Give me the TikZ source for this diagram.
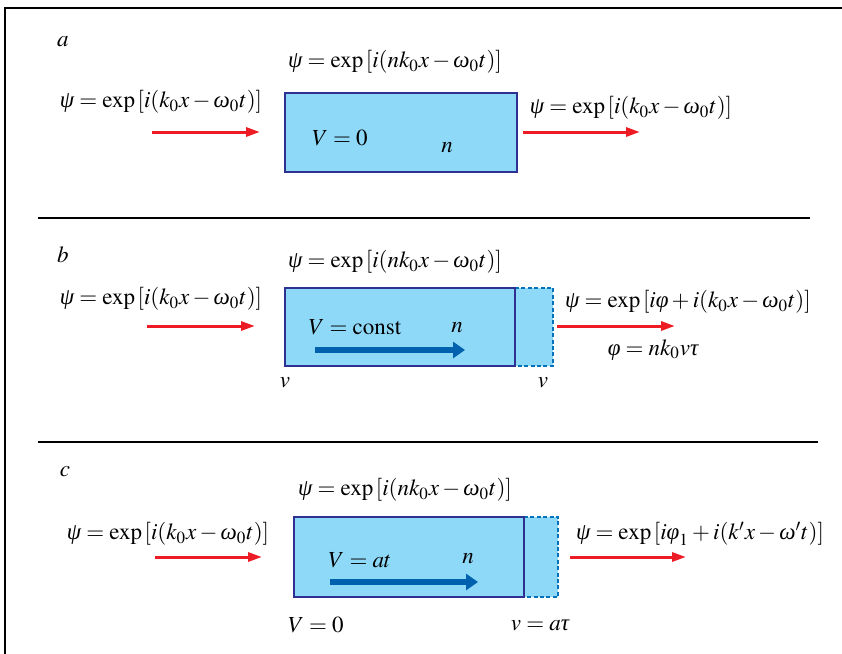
\documentclass[tikz,border=0pt]{standalone}
\usepackage{mathptmx}
\usepackage{fontspec}
\setmainfont{Liberation Serif}
\usetikzlibrary{arrows.meta}
\newcommand{\gr}[1]{\mbox{\itshape #1}}
\definecolor{fillblue}{HTML}{8ED8F8}
\definecolor{edgeblue}{HTML}{2E3192}
\definecolor{dashblue}{HTML}{0072BC}
\definecolor{arrblue}{HTML}{0061AF}
\definecolor{arrred}{HTML}{ED1C24}
\tikzset{
  medium/.style={fill=fillblue,draw=edgeblue,line width=1.4pt},
  trail/.style={draw=dashblue,line width=0.9pt,dash pattern=on 2pt off 1.2pt},
  wave/.style={draw=arrred,line width=1.5pt,-{Triangle[length=7pt,width=4.5pt]}},
  drift/.style={draw=arrblue,line width=3pt,-{Triangle[length=6pt,width=8pt]}},
  eq/.style={inner sep=0pt,font=\fontsize{11.5}{13}\selectfont},
}
\begin{document}
\begin{tikzpicture}[x=0.5pt,y=-0.5pt]
\useasboundingbox (0,0) rectangle (842,654);
\draw[line width=1pt] (5,654) -- (5,8) -- (842,8);
% panel a
\node[eq] (labA) at (63,42) {$a$};
\node[eq] (topA) at (395,62) {$\gr{ψ} = \exp\,[i(nk_0x-\gr{ω}_0t)]$};
\node[eq] (inA) at (161,102) {$\gr{ψ} = \exp\,[i(k_0x-\gr{ω}_0t)]$};
\node[eq] (outA) at (631,108) {$\gr{ψ} = \exp\,[i(k_0x-\gr{ω}_0t)]$};
\filldraw[medium] (285,93) rectangle (517,172);
\node[eq] (potA) at (340,138) {$V=0$};
\node[eq] (idxA) at (447,148) {$n$};
\draw[wave] (152,132) -- (260,132);
\draw[wave] (523,132) -- (640,132);
\draw[line width=0.6pt] (38,218) -- (810,218);
% panel b
\node[eq] (labB) at (63,255) {$b$};
\node[eq] (topB) at (395,262) {$\gr{ψ} = \exp\,[i(nk_0x-\gr{ω}_0t)]$};
\node[eq] (inB) at (161,299) {$\gr{ψ} = \exp\,[i(k_0x-\gr{ω}_0t)]$};
\node[eq] (outB) at (688,302) {$\gr{ψ} = \exp\,[i\gr{φ}+i(k_0x-\gr{ω}_0t)]$};
\node[eq] (phaseB) at (653,350) {$\gr{φ} = nk_0v\gr{τ}$};
\fill[fillblue] (515,288) rectangle (553,366);
\draw[trail] (515,288) -- (553,288) -- (553,366) -- (515,366);
\filldraw[medium] (285,288) rectangle (515,366);
\node[eq] (potB) at (355,327) {$V=\mathrm{const}$};
\node[eq] (idxB) at (457,328) {$n$};
\draw[drift] (315,350) -- (465,350);
\node[eq] (velL) at (285,383) {$v$};
\node[eq] (velR) at (543,383) {$v$};
\draw[wave] (147,326) -- (255,326);
\draw[wave] (557,326) -- (675,326);
\draw[line width=0.6pt] (38,442) -- (818,442);
% panel c
\node[eq] (labC) at (65,472) {$c$};
\node[eq] (topC) at (405,490) {$\gr{ψ} = \exp\,[i(nk_0x-\gr{ω}_0t)]$};
\node[eq] (inC) at (168,534) {$\gr{ψ} = \exp\,[i(k_0x-\gr{ω}_0t)]$};
\node[eq] (outC) at (700,534) {$\gr{ψ} = \exp\,[i\gr{φ}_1+i(k'x-\gr{ω}'t)]$};
\fill[fillblue] (524,517) rectangle (558,597);
\draw[trail] (524,517) -- (558,517) -- (558,597) -- (524,597);
\filldraw[medium] (294,517) rectangle (524,597);
\node[eq] (potC) at (360,560) {$V=at$};
\node[eq] (idxC) at (468,559) {$n$};
\draw[drift] (330,582) -- (478,582);
\node[eq] (startC) at (316,625) {$V=0$};
\node[eq] (endC) at (540,625) {$v=a\gr{τ}$};
\draw[wave] (155,557) -- (262,557);
\draw[wave] (570,557) -- (686,557);
\end{tikzpicture}
\end{document}
